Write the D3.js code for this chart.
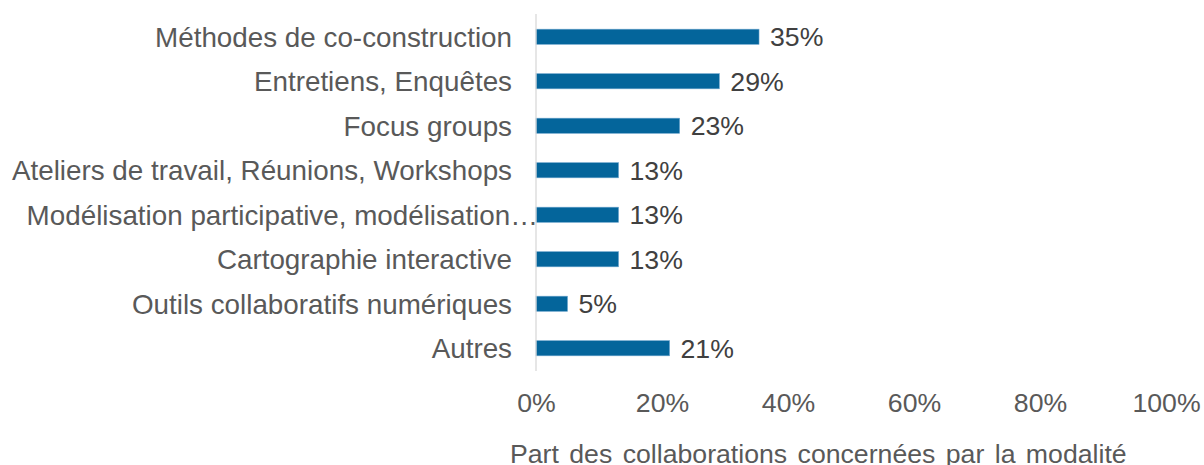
<!DOCTYPE html>
<html>
<head>
<meta charset="utf-8">
<script src="https://cdn.jsdelivr.net/npm/d3@7"></script>
<style>
  body { margin: 0; background: #fff; }
  svg { display: block; font-family: "Liberation Sans", Arial, sans-serif; }
</style>
</head>
<body>
<svg></svg>
<script>
let width = 1204, height = 465;

// data
let categories = [
  "Méthodes de co-construction",
  "Entretiens, Enquêtes",
  "Focus groups",
  "Ateliers de travail, Réunions, Workshops",
  "Modélisation participative, modélisation…",
  "Cartographie interactive",
  "Outils collaboratifs numériques",
  "Autres"
];
let values = [0.354, 0.291, 0.228, 0.131, 0.131, 0.131, 0.050, 0.212];
let tickValues = [0, 0.2, 0.4, 0.6, 0.8, 1.0];
let axisTitle = "Part des collaborations concernées par la modalité";

let data = categories.map((c, i) => ({ name: c, value: values[i] }));

let svg = d3.select("svg")
    .attr("width", width)
    .attr("height", height);

let x = d3.scaleLinear().domain([0, 1]).range([536, 1166]);
let y = d3.scaleBand().domain(categories).range([14.5, 370.5]).paddingInner(0.66).paddingOuter(0.33);

let pct = d3.format(".0%");

// bars
svg.append("g")
    .selectAll("rect")
    .data(data)
    .enter()
    .append("rect")
    .attr("x", x(0))
    .attr("y", d => y(d.name))
    .attr("width", d => x(d.value) - x(0))
    .attr("height", y.bandwidth())
    .attr("fill", "#04659b")
    .attr("stroke", "#6aa3cc")
    .attr("stroke-width", 0.6);

// vertical axis line
svg.append("line")
    .attr("x1", x(0)).attr("x2", x(0))
    .attr("y1", 14).attr("y2", 371)
    .attr("stroke", "#d9d9d9")
    .attr("stroke-width", 1.3);

// category labels (the truncated one runs over the axis like in Excel)
svg.append("g")
    .selectAll("text")
    .data(data)
    .enter()
    .append("text")
    .attr("x", d => d.name.endsWith("…") ? x(0) + 2 : x(0) - 24)
    .attr("y", d => y(d.name) + y.bandwidth() / 2)
    .attr("dy", "0.36em")
    .attr("text-anchor", "end")
    .attr("fill", "#595959")
    .style("font-size", "27.8px")
    .text(d => d.name);

// data labels
svg.append("g")
    .selectAll("text")
    .data(data)
    .enter()
    .append("text")
    .attr("x", d => x(d.value) + 11)
    .attr("y", d => y(d.name) + y.bandwidth() / 2)
    .attr("dy", "0.36em")
    .attr("fill", "#404040")
    .style("font-size", "26.67px")
    .text(d => pct(d.value));

// x axis tick labels (no line)
let xAxis = svg.append("g")
    .attr("transform", "translate(0,384)")
    .call(d3.axisBottom(x).tickValues(tickValues).tickFormat(pct).tickSize(0).tickPadding(0));
xAxis.select(".domain").remove();
xAxis.selectAll("text")
    .attr("fill", "#595959")
    .style("font-size", "26.67px")
    .style("font-family", "'Liberation Sans', Arial, sans-serif")
    .attr("dy", "1.05em");

// axis title
svg.append("text")
    .attr("x", 510)
    .attr("y", 463)
    .attr("fill", "#595959")
    .style("font-size", "26.67px")
    .style("word-spacing", "3px")
    .text(axisTitle);
</script>
</body>
</html>
